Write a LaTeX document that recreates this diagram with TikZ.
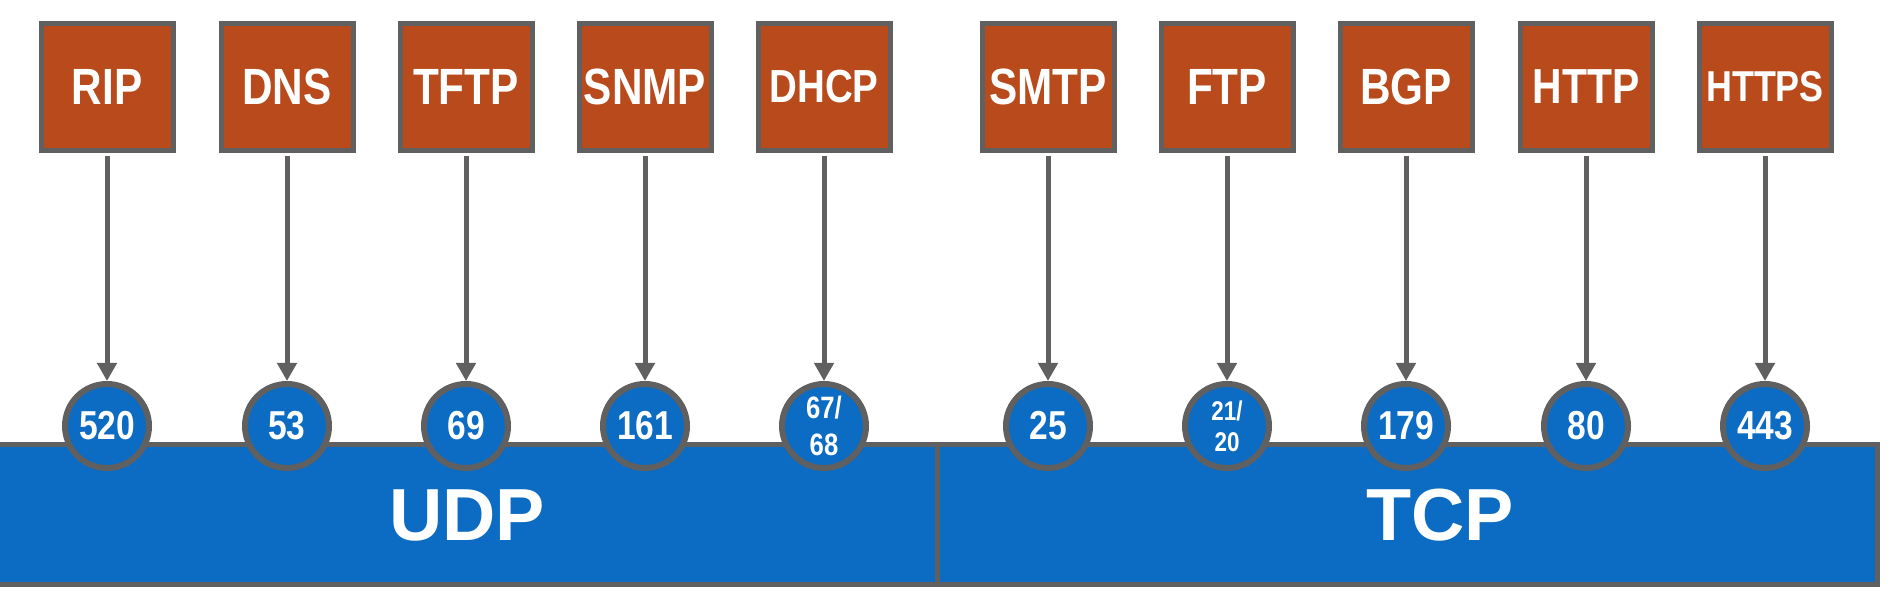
\documentclass[tikz,border=0pt]{standalone}
\usepackage{fontspec}
\setmainfont{Liberation Sans}
\newfontfamily\narrowfont{Liberation Sans}[FakeStretch=0.83]
\usetikzlibrary{arrows.meta}

\definecolor{protofill}{RGB}{185,74,27}
\definecolor{edgegray}{RGB}{96,96,96}
\definecolor{layerblue}{RGB}{12,107,194}

\tikzset{
  protobox/.style={draw=edgegray, fill=protofill, line width=0.05cm,
    minimum width=1.32cm, minimum height=1.27cm, inner sep=0pt, text=white},
  portcircle/.style={circle, draw=edgegray, fill=layerblue, line width=0.06cm,
    minimum size=0.84cm, inner sep=0pt, text=white, align=center},
  portnum/.style={font=\narrowfont\bfseries\fontsize{11.5}{12}\selectfont},
  porttwo/.style={font=\narrowfont\bfseries\fontsize{8.8}{10.5}\selectfont},
  portsmall/.style={font=\narrowfont\bfseries\fontsize{7.7}{8.8}\selectfont},
  arrowline/.style={draw=edgegray, line width=0.05cm, shorten <=0.03cm},
  layertext/.style={text=white, font=\bfseries\fontsize{21}{24}\selectfont}
}

\begin{document}
\begin{tikzpicture}[>={Triangle[width=0.19cm,length=0.18cm]}]

\useasboundingbox (0,0) rectangle (18.94,5.98);

% transport layer
\draw[draw=edgegray, fill=layerblue, line width=0.05cm] (-0.2,0.135) rectangle (18.775,1.535);
\draw[draw=edgegray, line width=0.05cm] (9.37,0.135) -- (9.37,1.535);
\node[layertext] (udp) at (4.67,0.83) {UDP};
\node[layertext] (tcp) at (14.40,0.83) {TCP};

% protocols and their ports
\foreach \n/\x/\proto/\bfs/\port/\pst in {
  rip/1.07/RIP/14.5/520/portnum,
  dns/2.87/DNS/14.5/53/portnum,
  tftp/4.66/TFTP/14.5/69/portnum,
  snmp/6.45/SNMP/14.5/161/portnum,
  dhcp/8.24/DHCP/13.2/{67/\\68}/porttwo,
  smtp/10.48/SMTP/14.5/25/portnum,
  ftp/12.27/FTP/14.5/{21/\\20}/portsmall,
  bgp/14.06/BGP/14.5/179/portnum,
  http/15.86/HTTP/14/80/portnum,
  https/17.65/HTTPS/12.3/443/portnum}{
  \node[protobox, font=\narrowfont\bfseries\fontsize{\bfs}{\bfs}\selectfont] (\n) at (\x,5.11) {\proto};
  \node[portcircle, \pst] (\n port) at (\x,1.72) {\port};
  \draw[->, arrowline] (\n) -- (\n port);
}

\end{tikzpicture}
\end{document}
